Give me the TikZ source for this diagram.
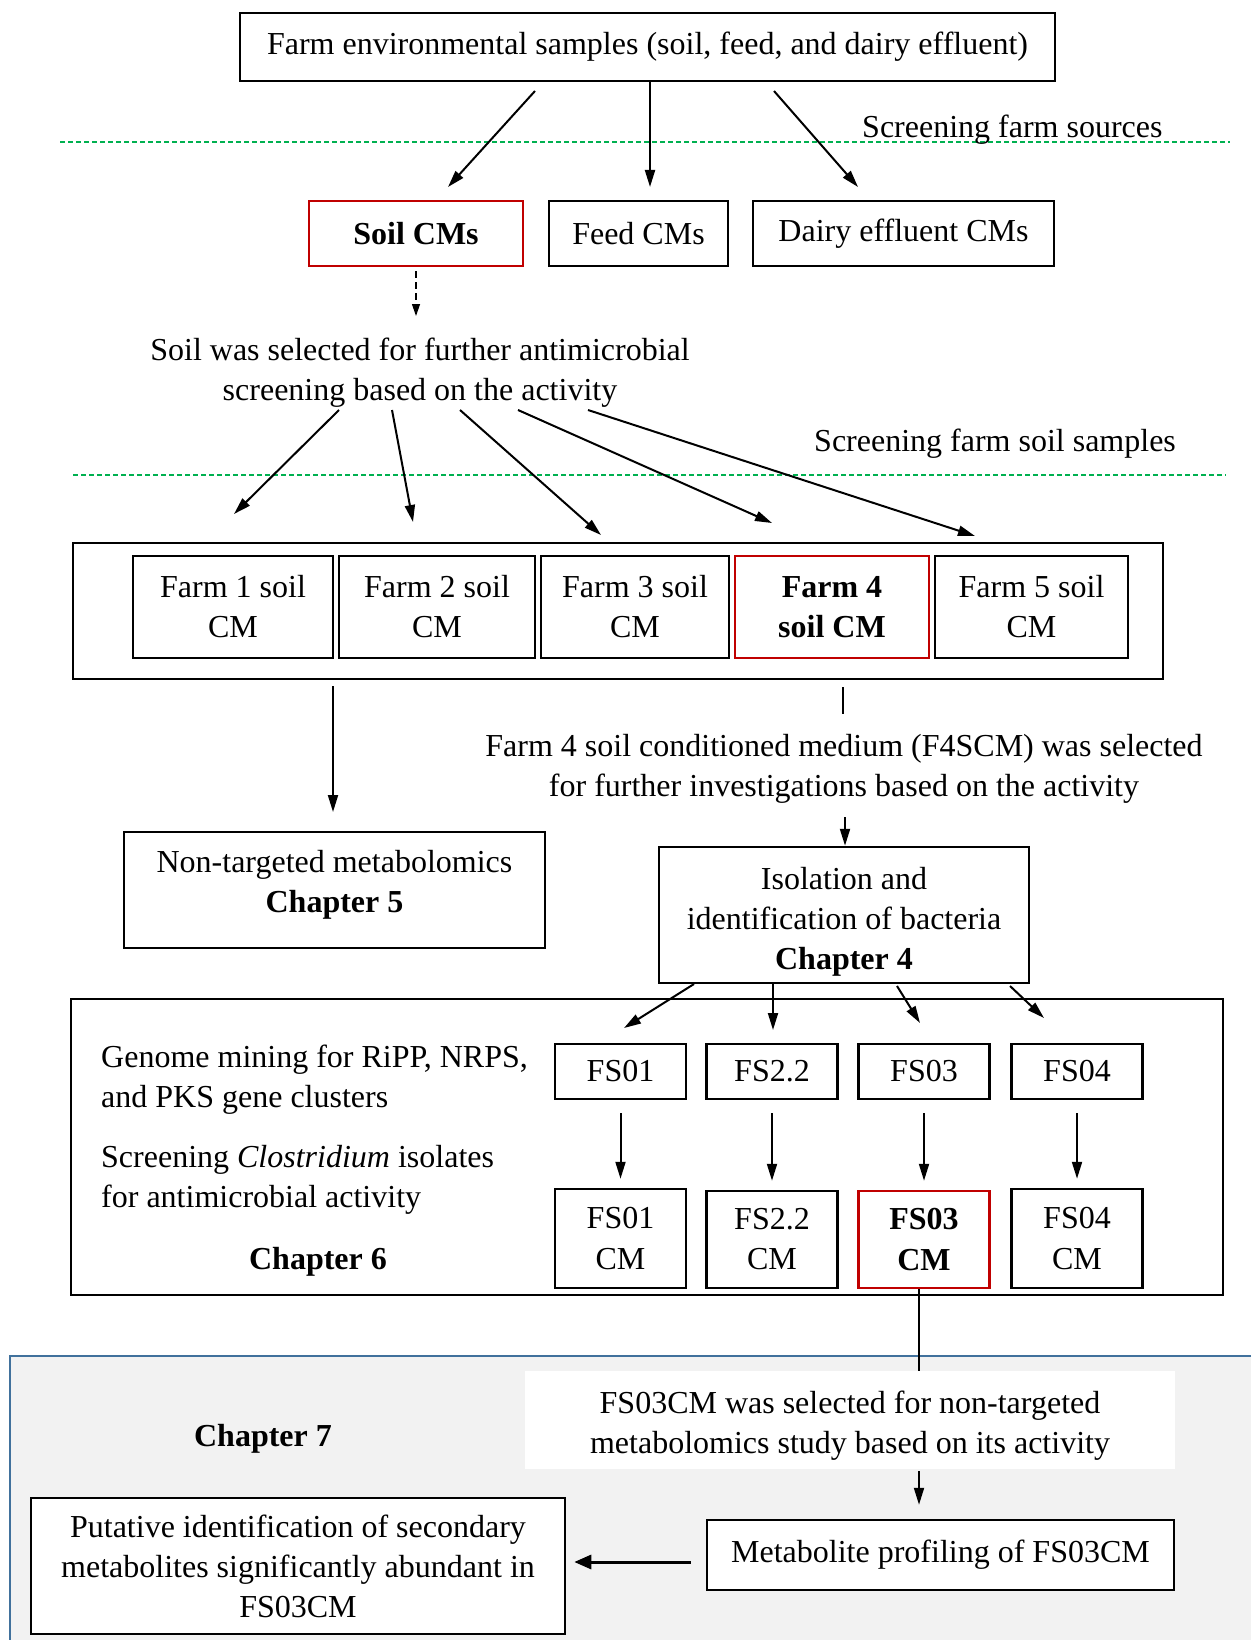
\documentclass[tikz,border=0pt]{standalone}
\usepackage{fontspec}
\setmainfont{Liberation Serif}
\usetikzlibrary{arrows.meta}
\definecolor{boxred}{RGB}{192,0,0}
\definecolor{guidegreen}{RGB}{0,176,80}
\definecolor{panelgray}{RGB}{242,242,242}
\definecolor{panelblue}{RGB}{65,113,156}
\begin{document}
\begin{tikzpicture}[x=1pt,y=-1pt,
  every node/.style={font=\fontsize{32}{40}\selectfont, inner sep=0pt, align=center},
  box/.style={draw, line width=2.5pt, rectangle},
  redbox/.style={box, draw=boxred},
  arr/.style={line width=2pt, -{Triangle[length=17pt,width=10pt]}},
  guide/.style={guidegreen, line width=1.5pt, dash pattern=on 5pt off 3pt},
]
\useasboundingbox (0,0) rectangle (1251,1640);

% Chapter 7 panel
\fill[panelgray] (10,1356) rectangle (1251,1640);
\draw[panelblue, line width=2pt] (1251,1356) -- (10,1356) -- (10,1640);

% guide lines between stages
\draw[guide] (60,142) -- (1230,142);
\draw[guide] (73,475) -- (1226,475);
\node[anchor=base west] (lblsrc) at (862,138) {Screening farm sources};
\node[anchor=base west] (lblsoil) at (814,451) {Screening farm soil samples};

% farm sources
\node[box, minimum width=815pt, minimum height=68pt] (src) at (647.5,47)
  {Farm environmental samples (soil, feed, and dairy effluent)};
\node[redbox, minimum width=214pt, minimum height=65pt] (soil) at (416,233.5) {\bfseries Soil CMs};
\node[box, minimum width=179pt, minimum height=65pt] (feed) at (638.5,233.5) {Feed CMs};
\node[box, minimum width=301pt, minimum height=65pt] (dairy) at (903.5,233.5) {Dairy effluent CMs};

\coordinate (s1) at (535,91);  \coordinate (e1) at (448,187);
\coordinate (e2) at (650,187);
\coordinate (s3) at (774,91);  \coordinate (e3) at (858,187);
\draw[arr] (s1) -- (e1);
\draw[arr] (src.south -| e2) -- (e2);
\draw[arr] (s3) -- (e3);

% soil selection
\node (soilsel) at (420,373) {Soil was selected for further antimicrobial\\screening based on the activity};
\coordinate (dsel) at (416,316);
\draw[line width=1.2pt, dash pattern=on 7pt off 4pt, -{Triangle[length=12pt,width=8pt]}] ([yshift=-4pt]soil.south) -- (dsel);

\node[box, minimum width=1090pt, minimum height=136pt] (farms) at (618,611) {};
\node[box, minimum width=200pt, minimum height=102pt] (f1) at (233,607) {Farm 1 soil\\CM};
\node[box, minimum width=196pt, minimum height=102pt] (f2) at (437,607) {Farm 2 soil\\CM};
\node[box, minimum width=188pt, minimum height=102pt] (f3) at (635,607) {Farm 3 soil\\CM};
\node[redbox, minimum width=194pt, minimum height=102pt] (f4) at (832,607) {\bfseries Farm 4\\\bfseries soil CM};
\node[box, minimum width=193pt, minimum height=102pt] (f5) at (1031.5,607) {Farm 5 soil\\CM};

\foreach \sx/\ex/\ey [count=\i] in {339/234/514, 392/413/522, 460/601/535, 518/772/523, 588/975/536} {
  \coordinate (fs\i) at (\sx,410);
  \coordinate (fe\i) at (\ex,\ey);
  \draw[arr] (fs\i) -- (fe\i);
}

% chapter 5 and chapter 4
\node[box, minimum width=421pt, minimum height=116pt] (nontarget) at (334.5,890) {};
\node (nontargettxt) at (334.5,885) {Non-targeted metabolomics\\\bfseries Chapter 5};
\coordinate (ntin) at (333,812);
\draw[arr] ([yshift=-6pt]farms.south -| ntin) -- (ntin);

\node (f4sel) at (844,769)
  {Farm 4 soil conditioned medium (F4SCM) was selected\\for further investigations based on the activity};
\coordinate (f4a) at (843,687); \coordinate (f4b) at (843,714);
\draw[line width=2pt] (f4a) -- (f4b);

\node[box, minimum width=370pt, minimum height=136pt] (isol) at (844,915) {};
\node (isoltxt) at (844,922) {Isolation and\\identification of bacteria\\\bfseries Chapter 4};
\draw[arr] (845,817) -- (isol.north -| 845,0);

% chapter 6
\node[box, minimum width=1152pt, minimum height=296pt] (ch6) at (647,1147) {};
\node[anchor=west, align=left] (genome) at (101,1080) {Genome mining for RiPP, NRPS,\\and PKS gene clusters};
\node[anchor=west, align=left] (clost) at (101,1180) {Screening \textit{Clostridium} isolates\\for antimicrobial activity};
\node (ch6lbl) at (318,1262) {\bfseries Chapter 6};

\node[box, minimum width=131pt, minimum height=55pt] (fs01) at (620.5,1071.5) {FS01};
\node[box, minimum width=131pt, minimum height=55pt] (fs22) at (772,1071.5) {FS2.2};
\node[box, minimum width=131pt, minimum height=55pt] (fs03) at (924,1071.5) {FS03};
\node[box, minimum width=131pt, minimum height=55pt] (fs04) at (1077,1071.5) {FS04};

\node[box, minimum width=131pt, minimum height=99pt] (fs01cm) at (620.5,1238.5) {FS01\\CM};
\node[box, minimum width=131pt, minimum height=97pt] (fs22cm) at (772,1239.5) {FS2.2\\CM};
\node[redbox, minimum width=131pt, minimum height=97pt] (fs03cm) at (924,1239.5) {\bfseries FS03\\\bfseries CM};
\node[box, minimum width=131pt, minimum height=99pt] (fs04cm) at (1077,1238.5) {FS04\\CM};

\foreach \a/\b in {fs01/fs01cm, fs22/fs22cm, fs03/fs03cm, fs04/fs04cm} {
  \draw[arr] ([yshift=-13pt]\a.south) -- ([yshift=9pt]\b.north);
}

\coordinate (i1) at (694,984);  \coordinate (j1) at (624,1028);
\coordinate (i2) at (773,984);  \coordinate (j2) at (773,1030);
\coordinate (i3) at (897,986);  \coordinate (j3) at (920,1023);
\coordinate (i4) at (1010,986); \coordinate (j4) at (1044,1018);
\foreach \i in {1,...,4} { \draw[arr] (i\i) -- (j\i); }

% chapter 7
\node (ch7lbl) at (263,1439) {\bfseries Chapter 7};
\node[fill=white, minimum width=650pt, minimum height=98pt] (fssel) at (850,1420) {};
\node (fsseltxt) at (850,1426)
  {FS03CM was selected for non-targeted\\metabolomics study based on its activity};
\draw[line width=1.5pt] (fs03cm.south -| 919,0) -- (fssel.north -| 919,0);

\node[box, fill=white, minimum width=467pt, minimum height=70pt] (profile) at (940.5,1555) {Metabolite profiling of FS03CM};
\draw[arr] ([yshift=-2pt]fssel.south -| 919,0) -- ([yshift=14pt]profile.north -| 919,0);

\node[box, fill=white, minimum width=534pt, minimum height=136pt] (putative) at (298,1566)
  {Putative identification of secondary\\metabolites significantly abundant in\\FS03CM};
\draw[line width=3pt, -{Triangle[length=17pt,width=14pt]}] ([xshift=-15pt]profile.west |- 0,1562) -- ([xshift=8pt]putative.east |- 0,1562);

\end{tikzpicture}
\end{document}
